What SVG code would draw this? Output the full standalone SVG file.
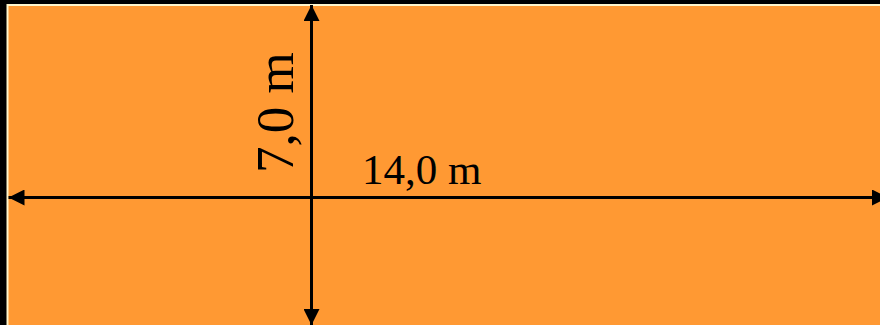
<svg xmlns="http://www.w3.org/2000/svg" width="880" height="325" viewBox="0 0 880 325">
  <style>
    .dim { stroke: #000; stroke-width: 3; fill: none; marker-start: url(#arrow); marker-end: url(#arrow); }
    .lbl { font-family: "Liberation Serif", "Times New Roman", serif; fill: #000; }
  </style>
  <defs>
    <marker id="arrow" markerUnits="userSpaceOnUse" markerWidth="16" markerHeight="16" refX="16" refY="8" orient="auto-start-reverse">
      <path d="M0,0 L16,8 L0,16 z" fill="#000"/>
    </marker>
  </defs>
  <rect x="0" y="0" width="880" height="325" fill="#000"/>
  <g id="field">
    <rect x="7.5" y="5" width="890" height="330" fill="#FF9933" stroke="#FFF6CC" stroke-width="2"/>
  </g>
  <g id="connectors">
    <path class="dim" d="M311.5,5 L311.5,325"/>
    <path class="dim" d="M8.5,197.5 L888,197.5"/>
  </g>
  <g id="label-width">
    <text class="lbl" x="362" y="184" font-size="43">14,0 m</text>
  </g>
  <g id="label-height">
    <text class="lbl" font-size="53" transform="translate(293,173) rotate(-90)">7,0 m</text>
  </g>
</svg>
